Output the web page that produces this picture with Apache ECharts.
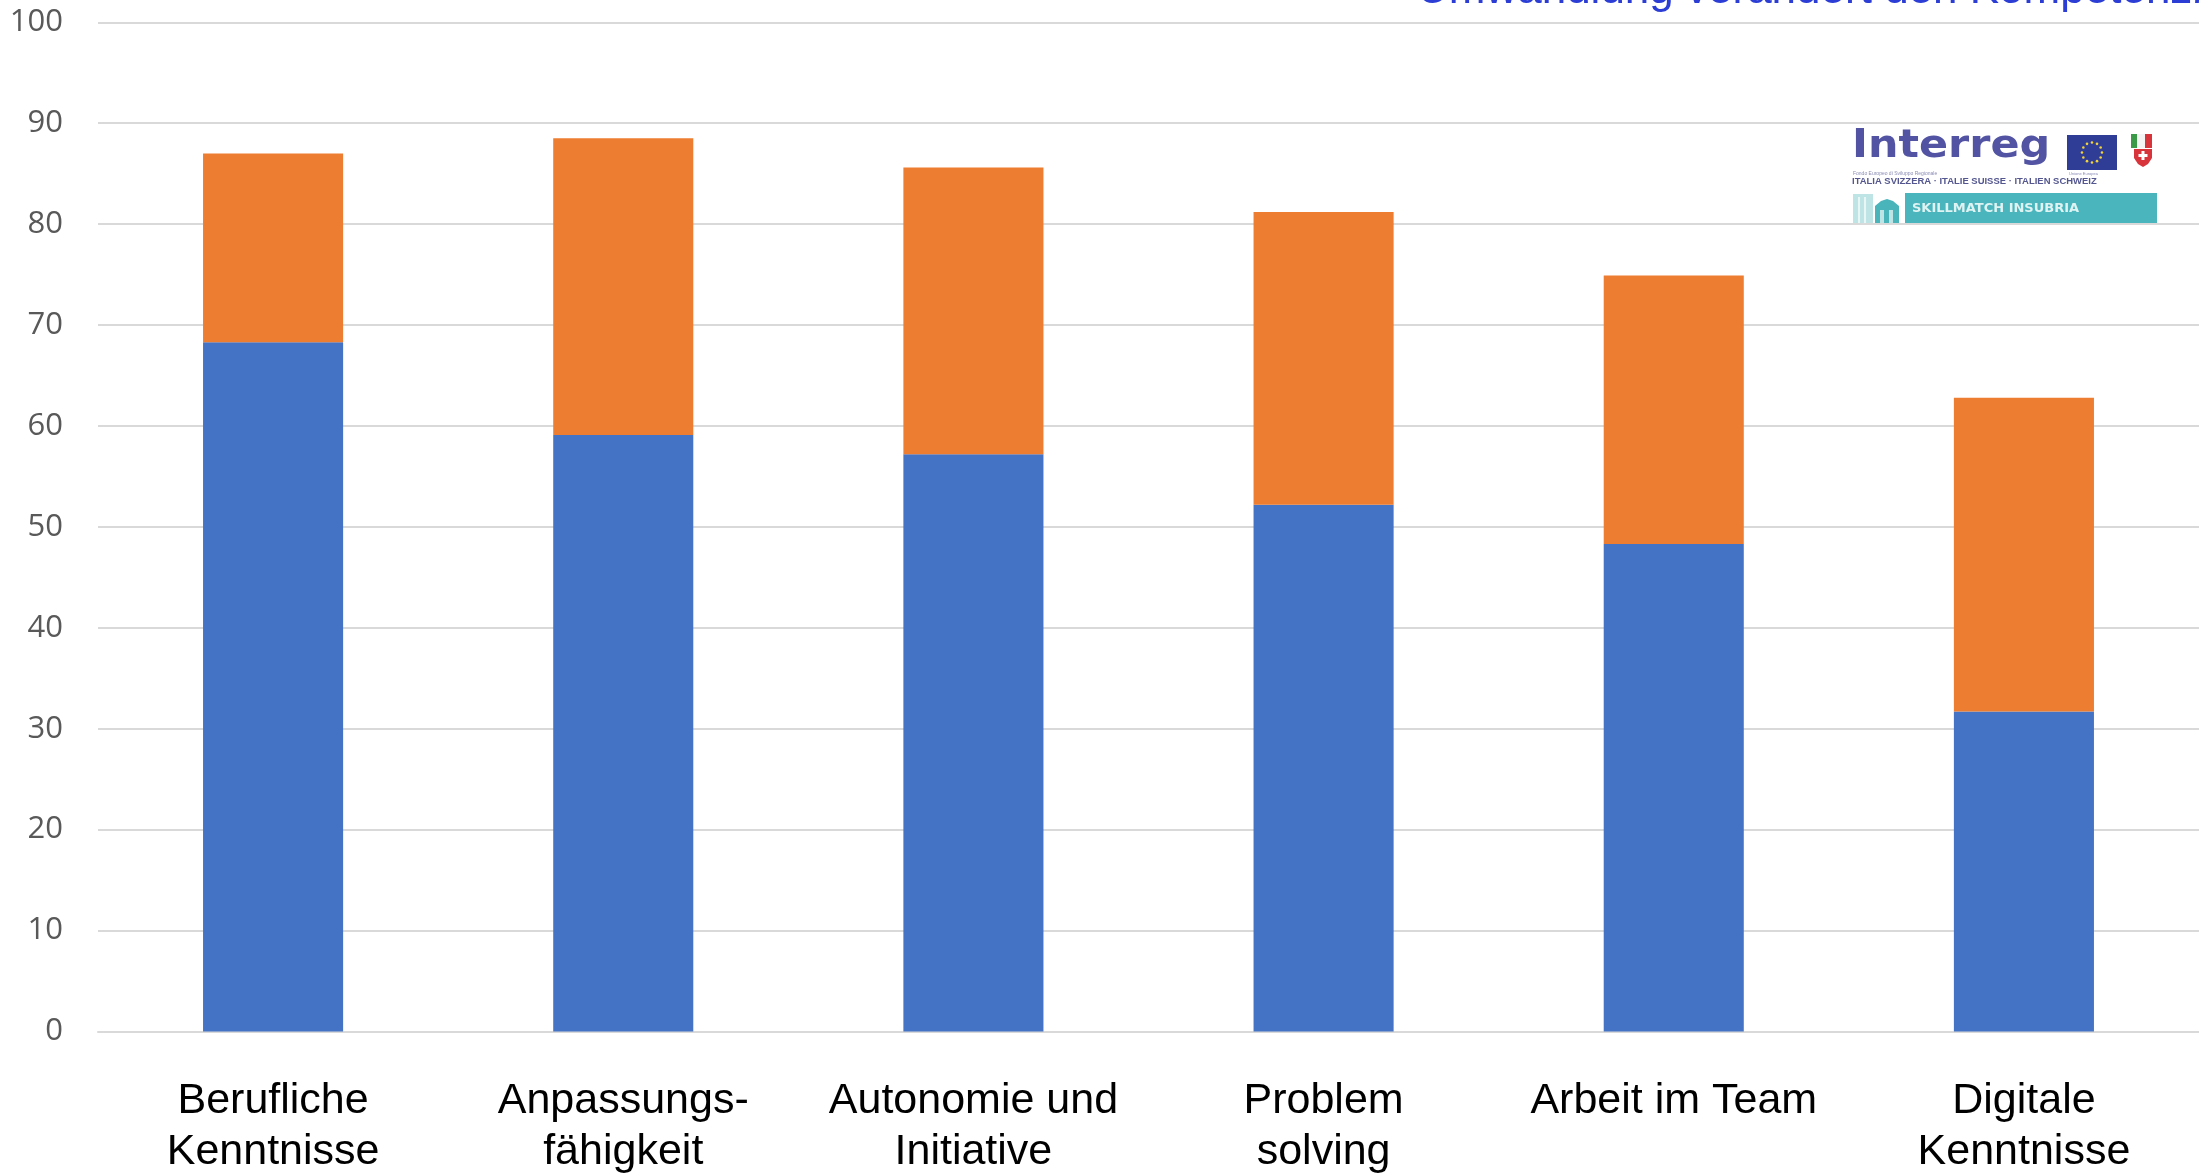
<!DOCTYPE html>
<html>
<head>
<meta charset="utf-8">
<title>Kompetenzen</title>
<script src="https://cdn.jsdelivr.net/npm/echarts/dist/echarts.min.js"></script>
<style>
  html, body { margin: 0; padding: 0; background: #ffffff; }
  #chart { width: 2199px; height: 1173px; }
</style>
</head>
<body>
<div id="chart"></div>
<script>
// Kategorien (Kompetenzbereiche)
const categories = [
  'Berufliche\nKenntnisse',
  'Anpassungs-\nfähigkeit',
  'Autonomie und\nInitiative',
  'Problem\nsolving',
  'Arbeit im Team',
  'Digitale\nKenntnisse'
];

// Werte der beiden gestapelten Reihen (in %)
const seriesBlue = [68.3, 59.1, 57.2, 52.2, 48.3, 31.7];
const seriesOrange = [18.7, 29.4, 28.4, 29.0, 26.6, 31.1];

// Y-Achse
const yMin = 0;
const yMax = 100;
const yStep = 10;

const titleText = 'Umwandlung verändert den Kompetenzbedarf';

// Logo oben rechts (Interreg / Skillmatch Insubria)
function logoElements() {
  const els = [];
  // Schriftzug
  els.push({
    type: 'text', x: 1852, y: 166, scaleX: 1.1,
    style: { text: 'Interreg', fill: '#5254a3', font: 'bold 39px "DejaVu Sans"', textVerticalAlign: 'bottom' }
  });
  // EU-Flagge
  els.push({ type: 'rect', shape: { x: 2067, y: 135, width: 50, height: 35 }, style: { fill: '#2f3d96' } });
  for (let i = 0; i < 12; i++) {
    const a = i * Math.PI / 6;
    els.push({ type: 'circle', shape: { cx: 2092 + 10 * Math.cos(a), cy: 152.5 + 10 * Math.sin(a), r: 1.3 }, style: { fill: '#f2d33a' } });
  }
  // Italien / Schweiz
  els.push({ type: 'rect', shape: { x: 2131, y: 134, width: 6, height: 14 }, style: { fill: '#3a9a48' } });
  els.push({ type: 'rect', shape: { x: 2137, y: 134, width: 8, height: 14 }, style: { fill: '#f4f4f4' } });
  els.push({ type: 'rect', shape: { x: 2145, y: 134, width: 7, height: 14 }, style: { fill: '#d8343c' } });
  els.push({ type: 'polygon', shape: { points: [[2134, 149], [2152, 149], [2152, 158], [2148, 164], [2143, 167], [2138, 164], [2134, 158]] }, style: { fill: '#d8343c' } });
  els.push({ type: 'rect', shape: { x: 2141.5, y: 151, width: 3, height: 9 }, style: { fill: '#ffffff' } });
  els.push({ type: 'rect', shape: { x: 2138.5, y: 154, width: 9, height: 3 }, style: { fill: '#ffffff' } });
  // Kleingedrucktes
  els.push({ type: 'text', x: 1853, y: 176, style: { text: 'Fondo Europeo di Sviluppo Regionale', fill: '#8a8cb4', font: '5px "Liberation Sans"', textVerticalAlign: 'bottom' } });
  els.push({ type: 'text', x: 1852, y: 186, scaleX: 1.05, style: { text: 'ITALIA SVIZZERA · ITALIE SUISSE · ITALIEN SCHWEIZ', fill: '#54578f', font: 'bold 9px "Liberation Sans"', textVerticalAlign: 'bottom' } });
  els.push({ type: 'text', x: 2069, y: 176, style: { text: 'Unione Europea', fill: '#8a8cb4', font: '4px "Liberation Sans"', textVerticalAlign: 'bottom' } });
  // Gebäude-Symbol
  els.push({ type: 'rect', shape: { x: 1853, y: 194, width: 20, height: 30 }, style: { fill: '#bfe4e6' } });
  els.push({ type: 'rect', shape: { x: 1858, y: 197, width: 2, height: 27 }, style: { fill: '#e8f6f6' } });
  els.push({ type: 'rect', shape: { x: 1864, y: 197, width: 2, height: 27 }, style: { fill: '#e8f6f6' } });
  els.push({ type: 'polygon', shape: { points: [[1875, 224], [1875, 206], [1881, 201], [1887, 199], [1893, 201], [1899, 206], [1899, 224]] }, style: { fill: '#4ab4bb' } });
  els.push({ type: 'rect', shape: { x: 1880, y: 210, width: 4, height: 14 }, style: { fill: '#bfe4e6' } });
  els.push({ type: 'rect', shape: { x: 1889, y: 210, width: 4, height: 14 }, style: { fill: '#bfe4e6' } });
  // Band
  els.push({ type: 'rect', shape: { x: 1905, y: 193, width: 252, height: 31 }, style: { fill: '#4ab5bc' } });
  els.push({ type: 'text', x: 1912, y: 209, style: { text: 'SKILLMATCH INSUBRIA', fill: '#dff3f3', font: 'bold 13px "DejaVu Sans"', textVerticalAlign: 'middle' } });
  return els;
}

const chart = echarts.init(document.getElementById('chart'), null, { renderer: 'canvas' });

chart.setOption({
  backgroundColor: '#ffffff',
  animation: false,
  title: {
    text: titleText,
    left: 1417,
    top: -31,
    padding: 0,
    textStyle: {
      fontFamily: '"Liberation Sans", Arial, sans-serif',
      fontSize: 44,
      fontWeight: 'normal',
      color: '#2b3dd4'
    }
  },
  grid: { left: 98, right: 0, top: 22.3, bottom: 141.5, containLabel: false, outerBoundsMode: 'none' },
  xAxis: {
    type: 'category',
    data: categories,
    axisLine: { show: true, lineStyle: { color: '#d9d9d9', width: 2 } },
    axisTick: { show: false },
    axisLabel: {
      interval: 0,
      margin: 44,
      color: '#000000',
      fontFamily: '"Liberation Sans", Arial, sans-serif',
      fontSize: 43,
      lineHeight: 51
    }
  },
  yAxis: {
    type: 'value',
    min: yMin,
    max: yMax,
    interval: yStep,
    axisLine: { show: false },
    axisTick: { show: false },
    splitLine: { show: true, lineStyle: { color: '#d9d9d9', width: 2 } },
    axisLabel: {
      margin: 35,
      color: '#595959',
      fontFamily: '"Open Sans", sans-serif',
      fontSize: 31
    }
  },
  series: [
    {
      name: 'Reihe 1',
      type: 'bar',
      stack: 'gesamt',
      barWidth: '40%',
      data: seriesBlue,
      itemStyle: { color: '#4472c4' }
    },
    {
      name: 'Reihe 2',
      type: 'bar',
      stack: 'gesamt',
      barWidth: '40%',
      data: seriesOrange,
      itemStyle: { color: '#ed7d31' }
    }
  ],
  graphic: { elements: logoElements() }
});
</script>
</body>
</html>
